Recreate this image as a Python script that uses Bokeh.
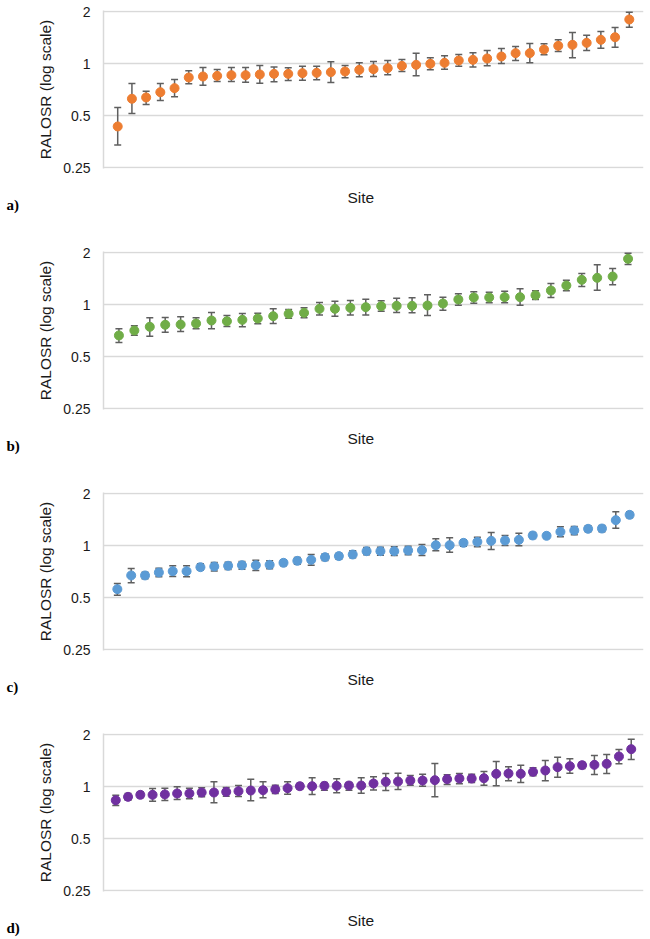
from bokeh.plotting import figure
from bokeh.layouts import column, row
from bokeh.models import Range1d, FixedTicker, Whisker, ColumnDataSource, Label, Title
from bokeh.embed import file_html
from bokeh.resources import INLINE

# ---- data (RALOSR per site, sorted) ----
a_val = [0.432, 0.625, 0.636, 0.682, 0.720, 0.830, 0.841, 0.848, 0.856, 0.856, 0.864, 0.871, 0.871, 0.879, 0.883, 0.891, 0.899, 0.919, 0.927, 0.940, 0.969, 0.982, 0.996, 1.009, 1.041, 1.050, 1.069, 1.098, 1.148, 1.148, 1.205, 1.266, 1.283, 1.317, 1.371, 1.420, 1.798]
a_hi = [0.556, 0.766, 0.691, 0.766, 0.808, 0.907, 0.948, 0.923, 0.948, 0.948, 0.974, 0.956, 0.944, 0.965, 0.965, 1.022, 0.974, 1.009, 1.027, 1.041, 1.055, 1.148, 1.078, 1.107, 1.127, 1.153, 1.189, 1.221, 1.254, 1.306, 1.300, 1.371, 1.512, 1.459, 1.532, 1.616, 1.982]
a_lo = [0.337, 0.513, 0.579, 0.610, 0.641, 0.763, 0.749, 0.787, 0.787, 0.780, 0.769, 0.783, 0.797, 0.800, 0.804, 0.776, 0.826, 0.837, 0.841, 0.860, 0.899, 0.848, 0.919, 0.927, 0.965, 0.956, 0.969, 1.000, 1.041, 1.009, 1.122, 1.173, 1.078, 1.189, 1.227, 1.243, 1.623]

b_val = [0.662, 0.707, 0.743, 0.763, 0.766, 0.776, 0.808, 0.800, 0.815, 0.830, 0.856, 0.883, 0.895, 0.944, 0.944, 0.957, 0.965, 0.978, 0.982, 0.982, 0.987, 1.013, 1.069, 1.098, 1.098, 1.103, 1.103, 1.132, 1.205, 1.288, 1.389, 1.427, 1.452, 1.838]
b_hi = [0.723, 0.753, 0.837, 0.841, 0.848, 0.837, 0.899, 0.864, 0.887, 0.891, 0.944, 0.935, 0.957, 1.027, 1.045, 1.055, 1.074, 1.050, 1.088, 1.093, 1.138, 1.103, 1.153, 1.184, 1.178, 1.194, 1.232, 1.200, 1.323, 1.383, 1.512, 1.697, 1.616, 1.982]
b_lo = [0.603, 0.664, 0.656, 0.691, 0.698, 0.723, 0.723, 0.746, 0.743, 0.773, 0.776, 0.833, 0.837, 0.868, 0.856, 0.868, 0.868, 0.915, 0.899, 0.895, 0.864, 0.927, 0.991, 1.018, 1.022, 1.022, 0.991, 1.069, 1.098, 1.200, 1.271, 1.211, 1.300, 1.704]

c_val = [0.559, 0.671, 0.671, 0.698, 0.710, 0.710, 0.749, 0.756, 0.763, 0.769, 0.769, 0.773, 0.794, 0.815, 0.826, 0.856, 0.868, 0.887, 0.927, 0.927, 0.927, 0.936, 0.940, 1.004, 1.004, 1.036, 1.050, 1.064, 1.069, 1.078, 1.143, 1.138, 1.200, 1.221, 1.249, 1.254, 1.402, 1.505]
c_hi = [0.603, 0.736, 0.701, 0.739, 0.763, 0.763, 0.783, 0.797, 0.800, 0.808, 0.822, 0.815, 0.826, 0.852, 0.887, 0.895, 0.903, 0.931, 0.974, 0.978, 0.982, 0.991, 1.013, 1.093, 1.107, 1.078, 1.117, 1.189, 1.143, 1.179, 1.189, 1.179, 1.283, 1.288, 1.300, 1.306, 1.566, 1.566]
c_lo = [0.516, 0.608, 0.641, 0.659, 0.662, 0.659, 0.720, 0.713, 0.726, 0.729, 0.717, 0.733, 0.763, 0.780, 0.769, 0.819, 0.833, 0.848, 0.883, 0.879, 0.875, 0.883, 0.875, 0.931, 0.915, 0.991, 0.982, 0.948, 1.000, 0.996, 1.098, 1.098, 1.122, 1.153, 1.200, 1.200, 1.260, 1.446]

d_val = [0.833, 0.871, 0.895, 0.895, 0.900, 0.911, 0.911, 0.923, 0.923, 0.931, 0.940, 0.948, 0.952, 0.961, 0.978, 1.004, 1.004, 1.009, 1.009, 1.013, 1.013, 1.041, 1.064, 1.069, 1.083, 1.083, 1.088, 1.103, 1.112, 1.112, 1.117, 1.184, 1.189, 1.184, 1.216, 1.238, 1.294, 1.311, 1.329, 1.335, 1.353, 1.492, 1.645]
d_hi = [0.891, 0.911, 0.931, 0.974, 0.978, 0.996, 0.978, 0.982, 1.064, 0.987, 1.013, 1.103, 1.064, 1.018, 1.064, 1.045, 1.122, 1.055, 1.107, 1.055, 1.122, 1.138, 1.189, 1.194, 1.158, 1.179, 1.359, 1.168, 1.189, 1.179, 1.221, 1.396, 1.300, 1.329, 1.283, 1.414, 1.479, 1.446, 1.383, 1.512, 1.532, 1.638, 1.879]
d_lo = [0.776, 0.833, 0.860, 0.822, 0.830, 0.841, 0.848, 0.871, 0.804, 0.879, 0.875, 0.826, 0.860, 0.911, 0.903, 0.965, 0.899, 0.952, 0.919, 0.952, 0.915, 0.956, 0.948, 0.961, 1.018, 1.004, 0.871, 1.027, 1.036, 1.055, 1.018, 1.009, 1.078, 1.055, 1.153, 1.078, 1.132, 1.194, 1.271, 1.173, 1.189, 1.353, 1.433]

tick_vals = [0.25, 0.5, 1, 2]
tick_labels = ["0.25", "0.5", "1", "2"]
panel_letters = ["a)", "b)", "c)", "d)"]
colors = ["#ED7D31", "#70AD47", "#5B9BD5", "#7030A0"]
x_label = "Site"
y_label = "RALOSR (log scale)"

PAGE_H = 939
LETTER_W = 20
FRAME_H = 158
TOP = 10
PAD = 2 ** (1 / 52)
GRID = "#d9d9d9"
ERR = "#5f5f5f"
TXT = "#1a1a1a"
heights = [241, 241, 241, 216]


def make_panel(vals, lo, hi, color, height):
    n = len(vals)
    xs = list(range(1, n + 1))
    p = figure(width=650 - LETTER_W, height=height,
               x_range=Range1d(0, n + 1),
               y_range=Range1d(tick_vals[0] / PAD, tick_vals[-1] * PAD),
               y_axis_type="log", output_backend="svg", toolbar_location=None,
               min_border_left=103 - LETTER_W, min_border_right=7, min_border_top=TOP,
               min_border_bottom=height - TOP - FRAME_H)
    p.outline_line_color = None
    p.xgrid.visible = False

    # x axis: nothing visible; it only provides spacing above the "Site" title
    xa = p.xaxis[0]
    xa.ticker = FixedTicker(ticks=[0])
    xa.axis_line_color = None
    xa.major_tick_line_color = "white"
    xa.minor_tick_line_color = None
    xa.major_tick_out = 18
    xa.major_tick_in = 0
    xa.minor_tick_out = 0
    xa.minor_tick_in = 0
    xa.major_label_standoff = 0
    xa.major_label_overrides = {0: ""}
    xa.major_label_text_font_size = "0px"

    ax = p.yaxis[0]
    ax.ticker = FixedTicker(ticks=tick_vals)
    ax.major_label_overrides = dict(zip(tick_vals, tick_labels))
    ax.major_tick_out = 0
    ax.major_tick_in = 0
    ax.minor_tick_out = 0
    ax.minor_tick_in = 0
    ax.major_label_standoff = 13
    ax.major_label_text_font = "Liberation Sans"
    ax.major_label_text_font_size = "14px"
    ax.major_label_text_color = TXT
    ax.axis_line_color = GRID
    ax.axis_line_width = 1.5
    ax.axis_label = y_label
    ax.axis_label_text_font = "Liberation Sans"
    ax.axis_label_text_font_style = "normal"
    ax.axis_label_text_font_size = "15.5px"
    ax.axis_label_text_color = TXT
    ax.axis_label_standoff = 6

    p.ygrid.ticker = FixedTicker(ticks=tick_vals)
    p.ygrid.grid_line_color = GRID
    p.ygrid.grid_line_width = 1.5

    src = ColumnDataSource(dict(x=xs, y=vals, lo=lo, hi=hi))
    w = Whisker(base="x", lower="lo", upper="hi", source=src,
                line_color=ERR, line_width=1.5, level="underlay")
    for head in (w.upper_head, w.lower_head):
        head.size = 7
        head.line_color = ERR
        head.line_width = 1.5
    p.add_layout(w)
    p.scatter("x", "y", source=src, size=9, marker="circle",
              fill_color=color, line_color=color)

    p.add_layout(Title(text=x_label, align="left", offset=244, vertical_align="top",
                       standoff=4, text_font="Liberation Sans", text_font_style="normal",
                       text_font_size="15.5px", text_color=TXT), "below")
    return p


series = [(a_val, a_lo, a_hi), (b_val, b_lo, b_hi), (c_val, c_lo, c_hi), (d_val, d_lo, d_hi)]
panels = [make_panel(v, l, h, colors[i], heights[i]) for i, (v, l, h) in enumerate(series)]

# narrow strip on the left that carries the panel letters a) b) c) d)
strip = figure(width=LETTER_W, height=PAGE_H, x_range=Range1d(0, LETTER_W),
               y_range=Range1d(0, PAGE_H), output_backend="svg", toolbar_location=None,
               x_axis_location=None, y_axis_location=None,
               min_border_left=0, min_border_right=0, min_border_top=0, min_border_bottom=0)
strip.outline_line_color = None
strip.grid.visible = False
top_acc = 0
for i, letter in enumerate(panel_letters):
    baseline_from_top = top_acc + TOP + 1 + 156 + 37
    strip.add_layout(Label(x=6, y=PAGE_H - baseline_from_top, x_units="screen", y_units="screen",
                           text=letter, text_align="left", text_baseline="alphabetic",
                           text_font="Liberation Serif", text_font_style="bold",
                           text_font_size="15px", text_color="black"))
    top_acc += heights[i]

layout = row(strip, column(*panels, spacing=0), spacing=0)
open("out.html", "w").write(file_html(layout, INLINE))
